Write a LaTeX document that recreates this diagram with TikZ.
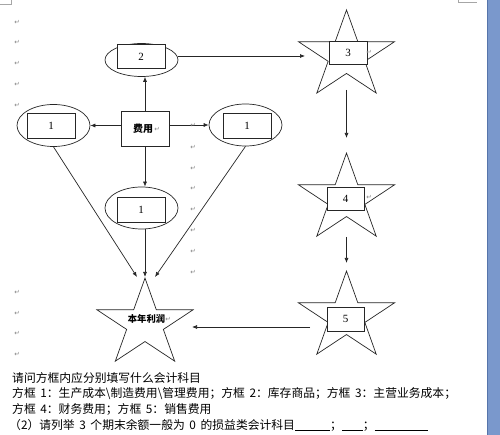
\documentclass[tikz,border=0pt]{standalone}
\usepackage{fontspec}
\setmainfont{Liberation Serif}
\newfontfamily\cjk{Noto Sans CJK SC}
\newfontfamily\symf{DejaVu Sans}
\usetikzlibrary{arrows.meta,shapes.geometric}
\definecolor{stripblue}{RGB}{122,152,204}
\definecolor{stripedge}{RGB}{86,116,170}
\newcommand\hs{\hspace{4.6pt}}
\tikzset{
  ln/.style={draw=black!85, line width=0.7pt},
  arr/.style={ln, -{Latex[length=5pt,width=4pt]}},
  ell/.style={ellipse, ln, minimum width=73pt, minimum height=42pt, inner sep=0pt},
  bx/.style={rectangle, ln, fill=white, minimum width=48pt, minimum height=25pt, inner sep=0pt, font=\fontsize{11}{11}\selectfont},
  retmark/.style={text=black!50, font=\symf\fontsize{6.5}{6.5}\selectfont, inner sep=0pt},
  body/.style={anchor=west, font=\cjk\fontsize{11.8}{11.8}\selectfont, inner sep=0pt},
  starline/.style={ln},
  corner/.style={draw=black!35, line width=0.6pt}
}
\newcommand\StarPts{(90:1) -- (126:0.382) -- (162:1) -- (198:0.382) -- (234:1) -- (270:0.382) -- (306:1) -- (342:0.382) -- (18:1) -- (54:0.382) -- cycle}
\begin{document}
\begin{tikzpicture}[x=1pt,y=-1pt]
\useasboundingbox (0,0) rectangle (500,435);
\fill[white] (0,0) rectangle (500,435);
% right window strip
\fill[stripblue] (487,0) rectangle (500,435);
\draw[stripedge, line width=1pt] (487.5,0) -- (487.5,435);
% page corner marks
\draw[corner] (0,4) -- (11,4) -- (11,0);
\draw[corner] (458,0) -- (458,2.5) -- (477,2.5);

% stars
\draw[starline, shift={(346.5,55.9)}, xscale=50.5, yscale=-45.9] \StarPts;
\draw[starline, shift={(346.5,199)}, xscale=50.5, yscale=-45.9] \StarPts;
\draw[starline, shift={(346.5,317)}, xscale=50.5, yscale=-45.9] \StarPts;
\draw[starline, shift={(145,324)}, xscale=50.5, yscale=-45.9] \StarPts;

% ellipses
\node[ell, minimum height=33pt] (e2) at (141.5,60) {};
\node[ell] (e1l) at (53.5,125.5) {};
\node[ell] (e1r) at (245.5,125) {};
\node[ell] (e1b) at (141.5,208) {};

% boxes in ellipses
\node[bx, minimum height=24pt] (b2) at (141,56.5) {2};
\node[bx] (b1l) at (51,125.5) {1};
\node[bx] (b1r) at (247,125.5) {1};
\node[bx] (b1b) at (141,209.5) {1};

% central box
\node[rectangle, ln, fill=white, minimum width=48pt, minimum height=35pt, inner sep=0pt] (fy) at (145,128.5) {};
\node[inner sep=0pt, font=\cjk\bfseries\fontsize{10}{10}\selectfont] (fyt) at (143,128.5) {费用};

% boxes in stars
\node[bx, minimum width=38pt, minimum height=23pt] (b3) at (348,52.5) {3};
\node[bx, minimum width=37pt, minimum height=23pt] (b4) at (345.5,198.5) {4};
\node[bx, minimum width=37pt, minimum height=24pt] (b5) at (345.5,319) {5};
\node[inner sep=0pt, font=\cjk\bfseries\fontsize{9.3}{9.3}\selectfont] (profit) at (146.5,319) {本年利润};

% connector end points
\coordinate (s3in) at (305,56);
\coordinate (s3out) at (346.5,90);
\coordinate (s4in) at (346.5,138);
\coordinate (s4out) at (346.5,237);
\coordinate (s5in) at (346.5,263);
\coordinate (s5out) at (310,327);
\coordinate (pin) at (192,327);
\coordinate (ptl) at (137,277);
\coordinate (ptm) at (145,277);
\coordinate (ptr) at (155,277);

% connectors
\draw[arr] (fy.north) -- (fy.north |- e2.south);
\draw[arr] (fy.west |- e1l.east) -- (e1l.east);
\draw[arr] (fy.east |- e1r.west) -- (e1r.west);
\draw[arr] (fy.south) -- (fy.south |- e1b.north);
\draw[arr] (e2.east |- s3in) -- (s3in);
\draw[arr] (s3out) -- (s4in);
\draw[arr] (s4out) -- (s5in);
\draw[arr] (s5out) -- (pin);
\draw[arr] (e1l.south) -- (ptl);
\draw[arr] (ptm |- e1b.south) -- (ptm);
\draw[arr] (e1r.south) -- (ptr);

% paragraph marks
\foreach \yy [count=\i] in {22,42,63,84,105,292,313,333,354} \node[retmark] (ml\i) at (17,\yy) {↵};
\foreach \yy [count=\i] in {125,147,168,188,209,230,251,272} \node[retmark] (mm\i) at (193,\yy) {↵};
\node[retmark] (mfy) at (157,129.5) {↵};
\node[retmark] (mpr) at (168,319.5) {↵};
\node[retmark] (m3) at (369,52) {↵};
\node[retmark] (m4) at (369,197.5) {↵};

% question text
\node[body] (t1) at (12,378) {请问方框内应分别填写什么会计科目};
\node[body] (t2) at (12,394) {方框\hs 1：生产成本\textbackslash 制造费用\textbackslash 管理费用；方框\hs 2：库存商品；方框\hs 3：主营业务成本；};
\node[body] (t3) at (12,409.5) {方框\hs 4：财务费用；方框\hs 5：销售费用};
\node[body] (t4) at (9,425) {（2）请列举\hs 3\hs 个期末余额一般为\hs 0\hs 的损益类会计科目\rule[-2pt]{35pt}{0.6pt}；\rule[-2pt]{21pt}{0.6pt}；\rule[-2pt]{53pt}{0.6pt}};
\end{tikzpicture}
\end{document}
